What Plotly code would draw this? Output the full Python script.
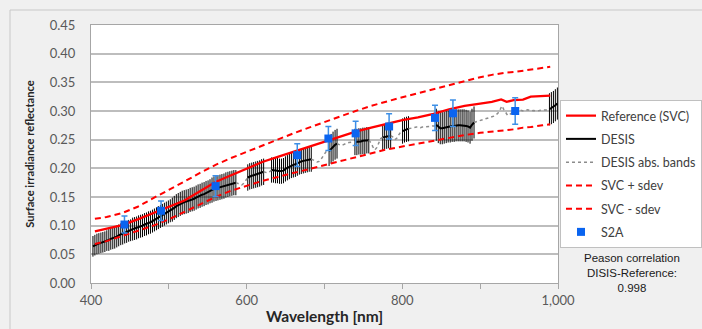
import plotly.graph_objects as go

# ---------------- DATA ----------------
# DESIS band centres (nm)
desis_wl = [
    402.5, 405.0, 407.6, 410.1, 412.7, 415.2, 417.8, 420.3, 422.9, 425.4, 428.0, 430.5, 433.1, 435.6, 438.2, 440.7, 443.3, 445.8, 448.4, 450.9,
    453.5, 456.0, 458.6, 461.1, 463.7, 466.2, 468.8, 471.3, 473.9, 476.4, 479.0, 481.5, 484.1, 486.6, 489.2, 491.7, 494.3, 496.8, 499.4, 501.9,
    504.5, 507.0, 509.6, 512.1, 514.7, 517.2, 519.8, 522.3, 524.9, 527.4, 530.0, 532.5, 535.1, 537.6, 540.2, 542.7, 545.3, 547.8, 550.4, 552.9,
    555.5, 558.0, 560.6, 563.1, 565.7, 568.2, 570.8, 573.3, 575.9, 578.4, 581.0, 583.5, 586.1, 588.6, 591.2, 593.7, 596.3, 598.8, 601.4, 603.9,
    606.5, 609.0, 611.6, 614.1, 616.7, 619.2, 621.8, 624.3, 626.9, 629.4, 632.0, 634.5, 637.1, 639.6, 642.2, 644.7, 647.3, 649.8, 652.4, 654.9,
    657.5, 660.0, 662.6, 665.1, 667.7, 670.2, 672.8, 675.3, 677.9, 680.4, 683.0, 685.5, 688.1, 690.6, 693.2, 695.7, 698.3, 700.8, 703.4, 705.9,
    708.5, 711.0, 713.6, 716.1, 718.7, 721.2, 723.8, 726.3, 728.9, 731.4, 734.0, 736.5, 739.1, 741.6, 744.2, 746.7, 749.3, 751.8, 754.4, 756.9,
    759.5, 762.0, 764.6, 767.1, 769.7, 772.2, 774.8, 777.3, 779.9, 782.4, 785.0, 787.5, 790.1, 792.6, 795.2, 797.7, 800.3, 802.8, 805.4, 807.9,
    810.5, 813.0, 815.6, 818.1, 820.7, 823.2, 825.8, 828.3, 830.9, 833.4, 836.0, 838.5, 841.1, 843.6, 846.2, 848.7, 851.3, 853.8, 856.4, 858.9,
    861.5, 864.0, 866.6, 869.1, 871.7, 874.2, 876.8, 879.3, 881.9, 884.4, 887.0, 889.5, 892.1, 894.6, 897.2, 899.7, 902.3, 904.8, 907.4, 909.9,
    912.5, 915.0, 917.6, 920.1, 922.7, 925.2, 927.8, 930.3, 932.9, 935.4, 938.0, 940.5, 943.1, 945.6, 948.2, 950.7, 953.3, 955.8, 958.4, 960.9,
    963.5, 966.0, 968.6, 971.1, 973.7, 976.2, 978.8, 981.3, 983.9, 986.4, 989.0, 991.5, 994.1, 996.6, 999.2,
]

# DESIS reflectance for every band (absorption bands included)
desis_refl = [
    0.064, 0.066, 0.068, 0.069, 0.070, 0.071, 0.072, 0.074, 0.075, 0.077, 0.078, 0.079, 0.081, 0.083, 0.085, 0.086, 0.088, 0.089, 0.091, 0.092,
    0.094, 0.095, 0.096, 0.098, 0.099, 0.100, 0.102, 0.103, 0.105, 0.106, 0.108, 0.110, 0.112, 0.114, 0.116, 0.118, 0.120, 0.122, 0.124, 0.126,
    0.128, 0.131, 0.134, 0.136, 0.138, 0.140, 0.141, 0.142, 0.143, 0.145, 0.146, 0.147, 0.149, 0.151, 0.152, 0.154, 0.155, 0.157, 0.158, 0.160,
    0.162, 0.164, 0.165, 0.166, 0.167, 0.168, 0.169, 0.171, 0.172, 0.173, 0.174, 0.175, 0.175, 0.174, 0.172, 0.171, 0.174, 0.179, 0.184, 0.186,
    0.187, 0.188, 0.189, 0.190, 0.191, 0.193, 0.194, 0.193, 0.192, 0.194, 0.197, 0.197, 0.196, 0.196, 0.195, 0.195, 0.196, 0.199, 0.201, 0.203,
    0.205, 0.206, 0.207, 0.209, 0.211, 0.212, 0.213, 0.214, 0.215, 0.216, 0.216, 0.215, 0.213, 0.211, 0.212, 0.216, 0.222, 0.228, 0.232, 0.230,
    0.234, 0.238, 0.241, 0.243, 0.242, 0.240, 0.241, 0.243, 0.244, 0.245, 0.246, 0.246, 0.246, 0.246, 0.247, 0.247, 0.248, 0.248, 0.249, 0.249,
    0.245, 0.238, 0.232, 0.236, 0.245, 0.252, 0.254, 0.255, 0.256, 0.257, 0.257, 0.255, 0.250, 0.252, 0.258, 0.263, 0.265, 0.267, 0.268, 0.269,
    0.270, 0.271, 0.271, 0.272, 0.272, 0.271, 0.272, 0.272, 0.273, 0.273, 0.273, 0.274, 0.274, 0.276, 0.272, 0.270, 0.270, 0.271, 0.272, 0.273,
    0.273, 0.274, 0.274, 0.275, 0.275, 0.275, 0.275, 0.275, 0.274, 0.273, 0.271, 0.276, 0.280, 0.281, 0.283, 0.284, 0.285, 0.286, 0.287, 0.288,
    0.289, 0.290, 0.291, 0.293, 0.296, 0.301, 0.309, 0.303, 0.296, 0.292, 0.294, 0.297, 0.299, 0.300, 0.301, 0.302, 0.301, 0.300, 0.301, 0.302,
    0.301, 0.300, 0.301, 0.300, 0.300, 0.301, 0.301, 0.302, 0.302, 0.302, 0.303, 0.305, 0.307, 0.310, 0.313,
]

# DESIS standard deviation per band (None = absorption band, not used)
N = None
desis_sd = [
    0.018, 0.018, 0.018, 0.018, 0.018, 0.018, 0.018, 0.018, 0.019, 0.019, 0.019, 0.019, 0.019, 0.019, 0.019, 0.019, 0.019, 0.019, 0.019, 0.019,
    0.020, 0.020, 0.020, 0.020, 0.020, 0.020, 0.020, 0.020, 0.020, 0.020, 0.020, 0.020, 0.020, 0.020, 0.020, 0.020, 0.020, 0.020, 0.020, 0.020,
    0.021, 0.021, 0.021, 0.021, 0.021, 0.021, 0.021, 0.021, 0.021, 0.021, 0.021, 0.021, 0.021, 0.021, 0.021, 0.021, 0.021, 0.021, 0.021, 0.021,
    0.022, 0.022, 0.022, 0.022, 0.022, 0.022, 0.022, 0.022, 0.022, 0.022, 0.022, 0.022, 0.022, N, N, N, N, N, 0.023, 0.023,
    0.023, 0.023, 0.023, 0.023, 0.023, 0.023, 0.023, N, N, N, 0.022, 0.022, 0.022, 0.022, 0.022, 0.022, 0.022, 0.022, 0.022, 0.022,
    0.022, 0.022, 0.022, 0.022, 0.022, 0.022, 0.022, 0.022, 0.022, 0.022, 0.022, N, N, N, N, N, N, N, N, 0.026,
    0.026, 0.026, 0.026, 0.026, N, N, N, N, N, N, N, N, 0.023, 0.023, 0.023, 0.023, 0.023, 0.023, 0.023, 0.023,
    N, N, N, N, N, N, 0.022, 0.022, 0.022, 0.022, 0.022, N, N, N, N, N, 0.022, 0.022, 0.022, 0.022,
    N, N, N, N, N, N, N, N, N, N, N, N, N, 0.028, 0.028, 0.028, 0.028, 0.028, 0.028, 0.028,
    0.028, 0.028, 0.028, 0.028, 0.028, 0.028, 0.028, 0.028, 0.028, 0.028, 0.028, 0.028, 0.028, N, N, N, N, N, N, N,
    N, N, N, N, N, N, N, N, N, N, N, N, N, N, N, N, N, N, N, N,
    N, N, N, N, N, N, N, N, N, N, 0.028, 0.028, 0.028, 0.028, 0.028,
]

# SVC reference spectrum with +/- one standard deviation
svc_wl = [405, 420, 440, 460, 480, 500, 520, 540, 560, 580, 600, 620, 640, 660, 680, 700, 720, 740, 760, 780,
          800, 820, 840, 860, 880, 900, 915, 927, 934, 943, 955, 965, 980, 990]
svc_ref = [0.090, 0.095, 0.101, 0.111, 0.122, 0.132, 0.144, 0.160, 0.176, 0.188, 0.200, 0.211, 0.220, 0.229, 0.237,
           0.246, 0.256, 0.264, 0.271, 0.278, 0.284, 0.289, 0.295, 0.303, 0.309, 0.313, 0.316, 0.320, 0.316, 0.319,
           0.320, 0.325, 0.326, 0.327]
svc_plus = [0.112, 0.115, 0.122, 0.133, 0.148, 0.162, 0.177, 0.192, 0.206, 0.218, 0.229, 0.240, 0.251, 0.261, 0.271,
            0.281, 0.290, 0.300, 0.309, 0.317, 0.324, 0.331, 0.338, 0.346, 0.353, 0.359, 0.363, 0.366, 0.367, 0.368,
            0.370, 0.372, 0.375, 0.377]
svc_minus = [0.068, 0.073, 0.082, 0.091, 0.100, 0.111, 0.124, 0.137, 0.150, 0.161, 0.170, 0.178, 0.185, 0.192, 0.199,
             0.206, 0.213, 0.220, 0.227, 0.233, 0.238, 0.243, 0.249, 0.254, 0.258, 0.262, 0.264, 0.266, 0.267, 0.268,
             0.271, 0.272, 0.275, 0.277]

# Sentinel-2A bands
s2a_wl = [443, 490, 560, 665, 705, 740, 783, 842, 865, 945]
s2a_refl = [0.102, 0.126, 0.169, 0.223, 0.252, 0.261, 0.273, 0.288, 0.296, 0.300]
s2a_err = [0.015, 0.017, 0.018, 0.020, 0.021, 0.021, 0.022, 0.022, 0.023, 0.023]

y_ticks = [0.00, 0.05, 0.10, 0.15, 0.20, 0.25, 0.30, 0.35, 0.40, 0.45]
x_ticks = [400, 600, 800, 1000]
x_ticklabels = ["400", "600", "800", "1,000"]
note_text = "Peason correlation<br>DISIS-Reference:<br>0.998"

# ---------------- DERIVED ----------------
n = len(desis_wl)
is_abs = [s is None for s in desis_sd]
desis_line = [None if is_abs[i] else desis_refl[i] for i in range(n)]
desis_err = [0 if is_abs[i] else desis_sd[i] for i in range(n)]
abs_line = []
for i in range(n):
    near = is_abs[i] or (i > 0 and is_abs[i - 1]) or (i < n - 1 and is_abs[i + 1])
    abs_line.append(desis_refl[i] if near else None)

FONT = "Lato, 'Open Sans', sans-serif"
RED = "#ff0000"

fig = go.Figure()

fig.add_trace(go.Scatter(
    x=desis_wl, y=desis_line, name="DESIS", mode="lines",
    line=dict(color="#000000", width=2), connectgaps=False,
    error_y=dict(type="data", array=desis_err, visible=True, color="#000000", thickness=1, width=0),
    legendgroup="b", legendrank=2,
))
fig.add_trace(go.Scatter(
    x=desis_wl, y=abs_line, name="DESIS abs. bands", mode="lines",
    line=dict(color="#8c8c8c", width=1.5, dash="dot"), connectgaps=False,
    legendgroup="c", legendrank=3,
))
fig.add_trace(go.Scatter(
    x=svc_wl, y=svc_ref, name="Reference (SVC)", mode="lines",
    line=dict(color=RED, width=2.25), legendgroup="a", legendrank=1,
))
fig.add_trace(go.Scatter(
    x=svc_wl, y=svc_plus, name="SVC + sdev", mode="lines",
    line=dict(color=RED, width=2, dash="6px,4px"), legendgroup="d", legendrank=4,
))
fig.add_trace(go.Scatter(
    x=svc_wl, y=svc_minus, name="SVC - sdev", mode="lines",
    line=dict(color=RED, width=2, dash="6px,4px"), legendgroup="e", legendrank=5,
))
fig.add_trace(go.Scatter(
    x=s2a_wl, y=s2a_refl, name="S2A", mode="markers",
    marker=dict(symbol="square", size=8, color="#0a64f0"),
    error_y=dict(type="data", array=s2a_err, visible=True, color="#3d8fe6", thickness=1.5, width=3),
    legendgroup="f", legendrank=6,
))

W0, W1, H0, H1 = 91, 558, 25, 283
pw, ph = W1 - W0, H1 - H0


def px(x):
    return (x - W0) / pw


def py(y):
    return (H1 - y) / ph


fig.update_layout(
    width=702, height=329,
    margin=dict(l=W0, r=702 - W1, t=H0, b=329 - H1, autoexpand=False),
    paper_bgcolor="#f0f0f0", plot_bgcolor="#ffffff",
    font=dict(family=FONT, size=13, color="#404040"),
    showlegend=True,
    legend=dict(
        x=px(560), y=py(100), xanchor="left", yanchor="top",
        bgcolor="#ffffff", bordercolor="#c0c0c0", borderwidth=1,
        font=dict(family=FONT, size=12.5, color="#404040"),
        traceorder="grouped", tracegroupgap=4,
    ),
    xaxis=dict(
        range=[400, 1000], tickvals=x_ticks, ticktext=x_ticklabels, automargin=False,
        showgrid=False, zeroline=False, showline=True, linecolor="#a6a6a6", linewidth=1,
        mirror=True, ticks="outside", ticklen=5, tickcolor="#a6a6a6",
        minor=dict(dtick=100, tick0=400, ticks="outside", ticklen=5, tickcolor="#a6a6a6", showgrid=False),
        tickfont=dict(size=13, color="#595959"),
        title=dict(text="<b>Wavelength [nm]</b>", font=dict(size=15.5, color="#262626"), standoff=4),
    ),
    yaxis=dict(
        range=[0, 0.45], tickvals=y_ticks, ticktext=["%.2f" % v for v in y_ticks], automargin=False,
        showgrid=True, gridcolor="#bdbdbd", gridwidth=1.5, zeroline=False,
        showline=True, linecolor="#a6a6a6", linewidth=1, mirror=True,
        ticks="", ticklabelstandoff=12,
        tickfont=dict(size=13, color="#595959"),
        title=dict(text="<b>Surface irradiance reflectance</b>", font=dict(size=11.2, color="#262626"), standoff=12),
    ),
    shapes=[
        dict(type="line", xref="paper", yref="paper", x0=px(10), x1=px(10), y0=py(340), y1=py(10),
             line=dict(color="#c8c8c8", width=1)),
        dict(type="line", xref="paper", yref="paper", x0=px(10), x1=px(720), y0=py(10), y1=py(10),
             line=dict(color="#c8c8c8", width=1)),
    ],
    annotations=[
        dict(text=note_text, xref="paper", yref="paper", x=px(632), y=py(273),
             xanchor="center", yanchor="middle", showarrow=False, align="center",
             font=dict(family="Liberation Sans, Arial, sans-serif", size=11.5, color="#1a1a1a")),
    ],
)

fig.write_html("out.html", config={"displayModeBar": False},
               post_script="document.body.style.margin='0px';")
